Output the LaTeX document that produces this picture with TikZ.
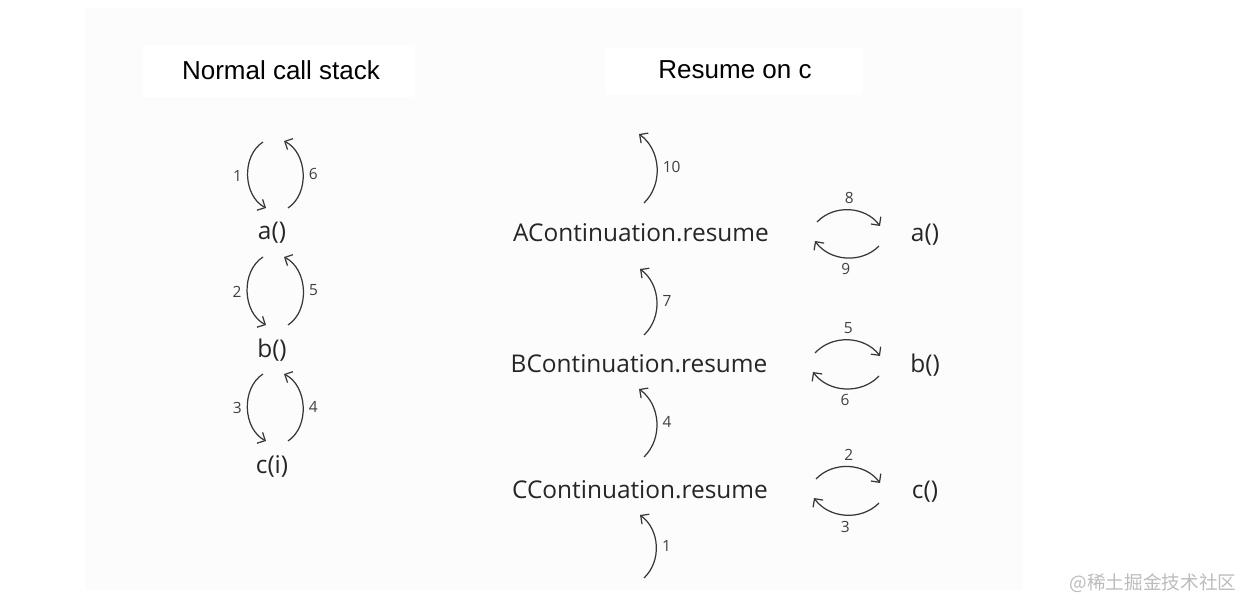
\documentclass[tikz,border=0pt]{standalone}
\usepackage{fontspec}
\setmainfont{Open Sans}
\newfontfamily\titlefont{Liberation Sans}
\newfontfamily\cjkfont{Noto Sans CJK SC}
\usetikzlibrary{arrows.meta}
\definecolor{ink}{RGB}{55,55,55}
\definecolor{panel}{RGB}{252,252,252}
\definecolor{mark}{RGB}{188,188,188}

\begin{document}
\begin{tikzpicture}[x=0.02cm, y=-0.02cm,
  fn/.style={inner sep=0pt, font=\fontsize{13.9}{16}\selectfont, text=black!85},
  title/.style={inner sep=0pt, font=\titlefont\fontsize{14.8}{17}\selectfont},
  num/.style={inner sep=3pt, font=\fontsize{8.8}{10}\selectfont, text=black!75},
  call/.style={draw=ink, line width=0.7pt, -{Straight Barb[length=3.5pt,width=7pt]}}]
\useasboundingbox (0,0) rectangle (1240,601);

% Background
\fill[white] (0,0) rectangle (1240,601);
\fill[panel] (85,8) rectangle (1023,590);
\fill[white] (143,45) rectangle (415,97);
\fill[white] (605,48) rectangle (863,95);

% Titles
\node[title] (tleft) at (281,70) {Normal call stack};
\node[title] (tright) at (735,70) {Resume on c};

% Normal call stack
\node[fn] (na) at (272,233) {a()};
\node[fn] (nb) at (272,350) {b()};
\node[fn] (nc) at (272,466) {c(i)};
\coordinate (nin) at (263,142);
\coordinate (nout) at (284,141);
\draw[call] (nin) to[bend right=60] node[num,left]{1} ([shift={(-6,-25)}]na.center);
\draw[call] ([shift={(16,-25)}]na.center) to[bend right=60] node[num,right]{6} (nout);
\foreach \u/\l/\d/\up in {na/nb/2/5, nb/nc/3/4} {
  \draw[call] ([shift={(-9,24)}]\u.center) to[bend right=60] node[num,left]{\d} ([shift={(-6,-25)}]\l.center);
  \draw[call] ([shift={(16,-25)}]\l.center) to[bend right=60] node[num,right]{\up} ([shift={(12,24)}]\u.center);
}

% Resume on c
\node[fn] (ra) at (641,233) {AContinuation.resume};
\node[fn] (rb) at (639,364) {BContinuation.resume};
\node[fn] (rc) at (640,490) {CContinuation.resume};
\node[fn] (aa) at (925,235) {a()};
\node[fn] (bb) at (925,365) {b()};
\node[fn] (cc) at (925,492) {c()};
\coordinate (rin) at (644,578);
\coordinate (rout) at (639,134);
\draw[call] (rin) to[bend right=50] node[num,right]{1} ([shift={(0,25)}]rc.center);
\draw[call] ([shift={(4,-33)}]rc.center) to[bend right=50] node[num,right]{4} ([shift={(0,25)}]rb.center);
\draw[call] ([shift={(5,-29)}]rb.center) to[bend right=50] node[num,right]{7} ([shift={(-1,36)}]ra.center);
\draw[call] ([shift={(3,-30)}]ra.center) to[bend right=50] node[num,right]{10} (rout);
\foreach \r/\c/\t/\b in {ra/aa/8/9, rb/bb/5/6, rc/cc/2/3} {
  \draw[call] ([shift={(176,-11)}]\r.center) to[bend left=50] node[num,above]{\t} ([shift={(-45,-9)}]\c.center);
  \draw[call] ([shift={(-46,11)}]\c.center) to[bend left=50] node[num,below]{\b} ([shift={(174,8)}]\r.center);
}

% Watermark
\node[text=mark, inner sep=0pt, font=\cjkfont\fontsize{10.6}{12}\selectfont] (wm) at (1153,583) {@稀土掘金技术社区};
\end{tikzpicture}
\end{document}
